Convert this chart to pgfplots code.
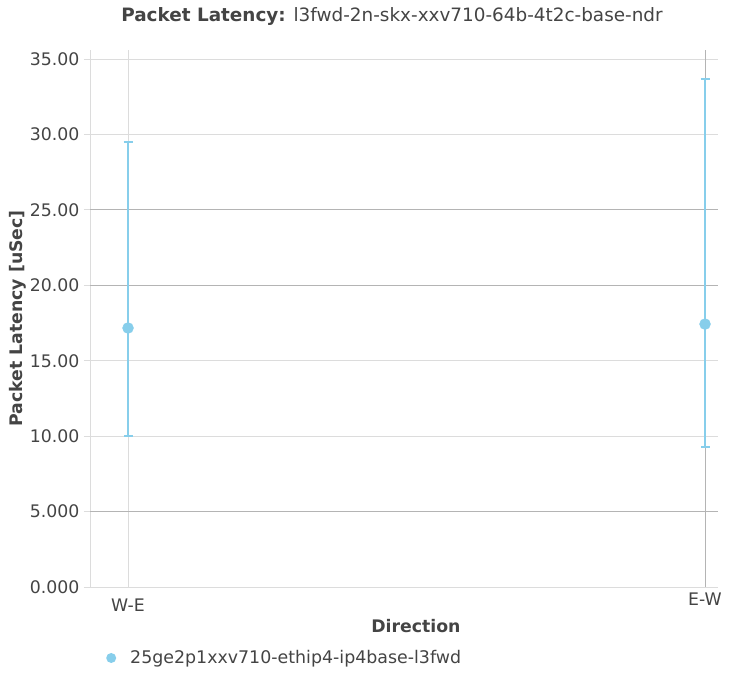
\documentclass[border=0pt]{standalone}
\usepackage{pgfplots}
\pgfplotsset{compat=1.18}
\usepackage{fontspec}
\setmainfont{DejaVu Sans}
\definecolor{sky}{HTML}{87CEEB}
\definecolor{txt}{HTML}{444444}
\definecolor{gridl}{HTML}{DCDCDC}
\definecolor{gridd}{HTML}{B4B4B4}
\newcommand{\fs}[1]{\fontsize{#1}{#1}\selectfont}
\begin{document}
\begin{tikzpicture}[x=1pt,y=1pt]
\path (0,0) rectangle (736,675);
\node[text=txt,font=\fs{18.4}] at (392,658) {\textbf{Packet Latency:} l3fwd-2n-skx-xxv710-64b-4t2c-base-ndr};
\begin{axis}[
  at={(90pt,88pt)}, anchor=south west,
  scale only axis, width=628pt, height=537pt,
  xmin=-0.0659, xmax=1.0225, ymin=0, ymax=35.6,
  axis x line=bottom, axis y line=left,
  axis line style={gridl, line width=1pt, -},
  xtick={0}, xticklabels={W-E},
  extra x ticks={1}, extra x tick labels={E-W},
  extra x tick style={grid style={gridd, line width=1pt}, major tick length=0pt},
  ytick={0,10,15,30,35}, yticklabels={0.000,10.00,15.00,30.00,35.00},
  extra y ticks={5,20,25}, extra y tick labels={5.000,20.00,25.00},
  extra y tick style={grid style={gridd, line width=1pt}},
  xmajorgrids, ymajorgrids,
  grid style={gridl, line width=1pt},
  tick align=outside,
  x tick style={draw=none},
  y tick style={gridl, line width=1pt},
  major tick length=6pt,
  ticklabel style={text=txt, font=\fs{17.3}},
  xticklabel style={yshift=-2pt},
  yticklabel style={xshift=-1pt},
  xlabel={\textbf{Direction}}, ylabel={\textbf{Packet Latency [uSec]}},
  every axis x label/.style={at={(axis description cs:0.519,-0.0726)}, anchor=center, text=txt, font=\fs{17.3}},
  every axis y label/.style={at={(axis description cs:-0.1146,0.5)}, rotate=90, anchor=center, text=txt, font=\fs{17.3}},
  legend style={at={(axis description cs:0.0255,-0.1322)}, anchor=west, draw=none, fill=none, font=\fs{17.4}, text=txt, inner sep=0pt},
  legend image code/.code={\fill[sky, draw=none] (5pt,0pt) circle (5pt); \path[draw=none, fill=none] (0pt,0pt) rectangle (22pt,0.1pt);},
  clip=false,
]
\addplot[only marks, mark=*, mark size=5.5pt, mark options={draw=sky, fill=sky},
  error bars/.cd, y dir=both, y explicit,
  error bar style={sky, line width=2pt},
  error mark options={rotate=90, mark size=4.5pt, sky, line width=2pt}]
  coordinates {(0,17.17) += (0,12.35) -= (0,7.13)
               (1,17.43) += (0,16.25) -= (0,8.18)};
\addlegendentry{25ge2p1xxv710-ethip4-ip4base-l3fwd}
\end{axis}
\end{tikzpicture}
\end{document}
